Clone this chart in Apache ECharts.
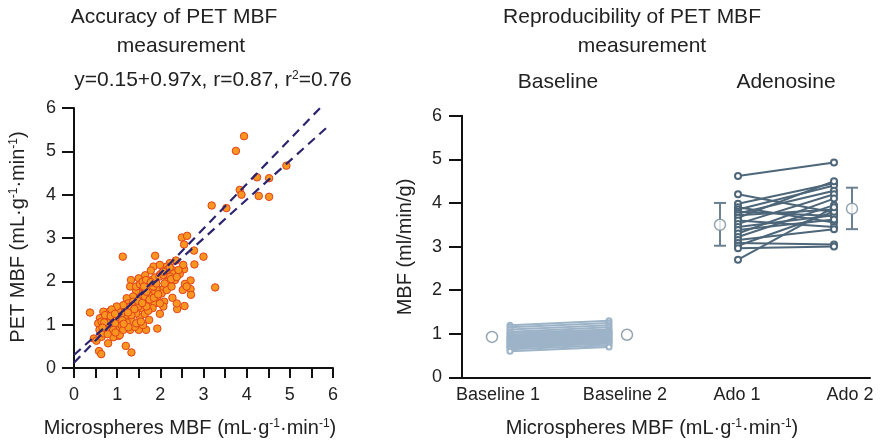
<!DOCTYPE html>
<html><head><meta charset="utf-8">
<script src="https://cdn.jsdelivr.net/npm/echarts@6/dist/echarts.min.js"></script>
<style>html,body{margin:0;padding:0;background:#fff}#c{width:880px;height:443px}</style>
</head><body><div id="c"></div>
<script>
// ---- Left panel: accuracy scatter ----
const microsphereMBF = [3.94,3.75,4.92,4.24,4.52,3.84,3.88,4.28,4.52,3.19,3.53,2.50,2.62,2.55,2.78,3.00,2.79,3.27,1.13,1.88,
0.37,1.20,1.33,0.58,0.63,0.46,0.52,1.93,1.67,1.50,1.30,2.56,2.39,2.38,1.99,2.09,2.07,2.28,2.70,2.70,
2.71,2.52,2.57,2.61,2.55,2.53,2.36,2.22,2.15,2.28,1.84,1.78,2.45,2.31,2.22,2.15,2.04,1.99,1.32,1.50,
1.65,1.30,1.99,2.07,1.91,1.82,1.70,1.74,1.60,1.53,1.44,1.37,1.22,1.26,1.45,1.60,1.70,1.80,1.87,1.74,
1.57,1.36,1.18,1.06,0.93,0.82,0.68,1.18,1.33,1.53,1.64,1.44,1.03,0.91,0.76,0.60,0.56,0.68,0.83,0.99,
1.10,1.22,1.41,1.60,0.59,0.72,0.87,1.03,0.91,0.79,0.64,0.68,1.06,0.76,0.95,0.83,1.10,1.03,1.22,1.30,
1.37,1.53,1.64,1.68,1.84,1.91,1.80,1.88,1.98,2.07,2.15,2.22,1.44,1.53,1.59,1.67,1.99,1.82,1.72,1.49,
1.14,0.99,0.87,0.72,0.64,0.79,0.91,1.14,1.26,1.44,1.55,1.74,1.33,1.68,1.93,2.03,2.15,2.26,2.34,2.42,
1.99,2.07,0.70,0.85,0.95,1.12,0.78,0.96,1.15,0.66,1.25,1.40,1.48,1.58,1.75,1.85,1.95,2.10,2.25,2.38,1.62,1.78];
const petMBF = [5.35,5.01,4.67,4.40,4.38,4.11,4.00,3.97,3.95,3.75,3.69,3.01,3.05,2.85,2.71,2.57,2.39,1.86,2.57,2.59,
1.28,0.51,0.36,0.39,0.32,0.68,0.63,0.91,0.88,0.88,0.88,1.43,1.36,1.49,1.25,1.53,1.42,1.62,2.02,1.82,
1.69,1.80,1.94,1.88,2.28,2.38,2.48,2.42,2.34,2.26,2.34,2.25,2.17,2.18,2.11,1.99,2.20,2.15,2.03,2.07,
2.14,1.88,1.80,1.82,1.82,1.72,1.95,1.84,1.80,1.72,1.78,1.65,1.61,1.49,1.49,1.61,1.49,1.42,1.49,1.67,
1.38,1.34,1.34,1.38,1.34,1.30,1.30,1.18,1.12,1.18,1.25,1.26,1.11,1.18,1.11,1.15,1.03,0.99,0.95,0.92,
0.99,1.05,0.95,0.99,0.88,0.84,0.80,0.74,0.71,0.57,0.72,0.80,0.76,0.92,1.03,1.11,1.26,1.30,1.38,1.42,
1.53,1.61,1.65,1.76,1.88,1.95,2.03,2.09,2.11,2.15,2.26,2.32,1.88,1.93,1.99,2.03,1.49,1.38,1.32,1.42,
1.45,1.42,1.35,1.22,1.07,1.03,0.88,0.88,0.94,1.03,1.07,1.11,1.22,1.42,1.65,1.72,1.80,1.88,2.03,2.26,
2.38,2.22,1.05,1.20,1.25,1.10,0.78,0.82,1.02,0.93,1.28,1.36,1.55,1.50,1.58,1.62,1.70,1.95,2.05,2.10,1.88,1.98];
// two dashed reference lines (start/end points in data units)
const upperLineX = [0, 5.72], upperLineY = [0.12, 6.02];
const lowerLineX = [0, 5.89], lowerLineY = [0.30, 5.58];

// ---- Right panel: reproducibility ----
const groupLabels = ['Baseline 1','Baseline 2','Ado 1','Ado 2'];
const labelPos = [1.2, 5.43, 9.17, 12.93];
const baselinePos = [1.6, 4.9];
const adoPos = [9.2, 12.4];
const baseline1 = [1.20,1.15,1.10,1.05,1.02,0.98,0.95,0.92,0.90,0.87,0.85,0.82,0.80,0.78,0.75,0.72,0.70,0.68,0.65,0.60];
const baseline2 = [1.30,1.25,1.20,1.15,1.10,1.08,1.05,1.02,1.00,0.98,0.95,0.93,0.90,0.88,0.86,0.83,0.80,0.78,0.74,0.70];
const ado1 = [4.62,4.20,3.98,3.90,3.85,3.80,3.76,3.72,3.66,3.60,3.52,3.45,3.38,3.30,3.22,3.15,3.08,3.02,2.96,2.70];
const ado2 = [4.93,3.78,4.45,3.55,4.40,3.70,4.28,3.85,4.50,3.45,4.20,3.72,3.62,4.10,3.95,3.40,3.05,3.80,3.00,3.90];
const meanPos = [1.0, 5.5, 8.6, 13.0];
const meanVals = [0.93, 0.98, 3.50, 3.87];
const errPos = [8.6, 13.0];
const errLow = [3.02, 3.40];
const errHigh = [4.00, 4.35];

const FONT = '"Liberation Sans", Arial, Helvetica, sans-serif';
const chart = echarts.init(document.getElementById('c'), null, {renderer:'canvas'});
const axisCol = '#111';
const sup = {fontSize: 12, fontFamily: FONT, color:'#222', padding:[0,0,9,0]};

const series = [];
series.push({type:'scatter', xAxisIndex:0, yAxisIndex:0, symbolSize:7.5,
  itemStyle:{color:'#f8961f', borderColor:'#e2401b', borderWidth:1, opacity:1},
  data: microsphereMBF.map((x,i)=>[x, petMBF[i]]), z:3});
[[upperLineX,upperLineY],[lowerLineX,lowerLineY]].forEach(([lx,ly])=>{
  series.push({type:'line', xAxisIndex:0, yAxisIndex:0, symbol:'none',
    lineStyle:{color:'#2d2470', width:2.2, type:[9,6]}, data: lx.map((x,i)=>[x, ly[i]]), z:4});
});
baseline1.forEach((v,i)=>{
  series.push({type:'line', xAxisIndex:1, yAxisIndex:1, symbol:'emptyCircle', symbolSize:5,
    lineStyle:{color:'#9db3c8', width:2}, itemStyle:{color:'#9db3c8', borderWidth:1},
    data:[[baselinePos[0], v],[baselinePos[1], baseline2[i]]]});
});
ado1.forEach((v,i)=>{
  series.push({type:'line', xAxisIndex:1, yAxisIndex:1, symbol:'emptyCircle', symbolSize:6,
    lineStyle:{color:'#4d6679', width:2}, itemStyle:{color:'#4d6679', borderWidth:1},
    data:[[adoPos[0], v],[adoPos[1], ado2[i]]]});
});
series.push({type:'custom', xAxisIndex:1, yAxisIndex:1, z:5,
  data: errPos.map((x,i)=>[x, errLow[i], errHigh[i]]),
  renderItem:(params, api)=>{
    const lo = api.coord([api.value(0), api.value(1)]);
    const hi = api.coord([api.value(0), api.value(2)]);
    const w = 6;
    const st = {stroke:'#6b8090', lineWidth:2};
    return {type:'group', children:[
      {type:'line', shape:{x1:lo[0],y1:lo[1],x2:hi[0],y2:hi[1]}, style:st},
      {type:'line', shape:{x1:lo[0]-w,y1:lo[1],x2:lo[0]+w,y2:lo[1]}, style:st},
      {type:'line', shape:{x1:hi[0]-w,y1:hi[1],x2:hi[0]+w,y2:hi[1]}, style:st}
    ]};
  }});
series.push({type:'scatter', xAxisIndex:1, yAxisIndex:1, symbol:'circle', symbolSize:11, z:6,
  itemStyle:{color:'#fff', borderColor:'#7a8d9b', borderWidth:1.5},
  data: meanPos.map((x,i)=>[x, meanVals[i]])});

const txt = (x,y,text,size,extra)=>Object.assign({type:'text', x, y, style:Object.assign({text, fontSize:size, fontFamily:FONT, fill:'#222', align:'center', verticalAlign:'middle', rich:{sup:sup, n:{fontSize:size, fontFamily:FONT, color:'#222'}}}, extra||{})});

chart.setOption({
  animation:false,
  textStyle:{fontFamily:FONT},
  grid:[{left:74, top:108, width:259, height:260},{left:462, top:115.7, width:408, height:261.8}],
  xAxis:[
    {gridIndex:0, type:'value', min:0, max:6, interval:0.5, splitLine:{show:false},
     axisLine:{lineStyle:{color:axisCol, width:2}}, axisTick:{length:10, lineStyle:{color:axisCol,width:2}},
     axisLabel:{fontSize:18, color:'#222', margin:18, formatter:v=>Number.isInteger(v)?String(v):''}},
    {gridIndex:1, type:'value', min:0, max:13.6, splitLine:{show:false},
     axisLine:{lineStyle:{color:axisCol, width:2}}, axisTick:{show:false},
     axisLabel:{fontSize:18, color:'#222', margin:9, customValues:labelPos,
       formatter:v=>{const k=labelPos.findIndex(p=>Math.abs(p-v)<0.01);return k>=0?groupLabels[k]:'';}}}
  ],
  yAxis:[
    {gridIndex:0, type:'value', min:0, max:6, interval:1, splitLine:{show:false},
     axisLine:{lineStyle:{color:axisCol, width:2}}, axisTick:{length:12, lineStyle:{color:axisCol,width:2}},
     axisLabel:{fontSize:18, color:'#222', margin:18}},
    {gridIndex:1, type:'value', min:0, max:6, interval:1, splitLine:{show:false},
     axisLine:{lineStyle:{color:axisCol, width:2}}, axisTick:{length:13, lineStyle:{color:axisCol,width:2}},
     axisLabel:{fontSize:18, color:'#222', margin:20}}
  ],
  series,
  graphic:[
    txt(174,17,'Accuracy of PET MBF',21),
    txt(181,46,'measurement',21),
    txt(213,80,'{n|y=0.15+0.97x, r=0.87, r}{sup|2}{n|=0.76}',21),
    txt(632,17,'Reproducibility of PET MBF',21),
    txt(642,46,'measurement',21),
    txt(558,82,'Baseline',21),
    txt(786,82,'Adenosine',21),
    txt(190,428,'{n|Microspheres MBF (mL·g}{sup|-1}{n|·min}{sup|-1}{n|)}',20),
    txt(652,428,'{n|Microspheres MBF (mL·g}{sup|-1}{n|·min}{sup|-1}{n|)}',20),
    Object.assign(txt(18,237,'{n|PET MBF (mL·g}{sup|-1}{n|·min}{sup|-1}{n|)}',20),{rotation:Math.PI/2}),
    Object.assign(txt(405,247,'MBF (ml/min/g)',20),{rotation:Math.PI/2})
  ]
});
</script></body></html>
